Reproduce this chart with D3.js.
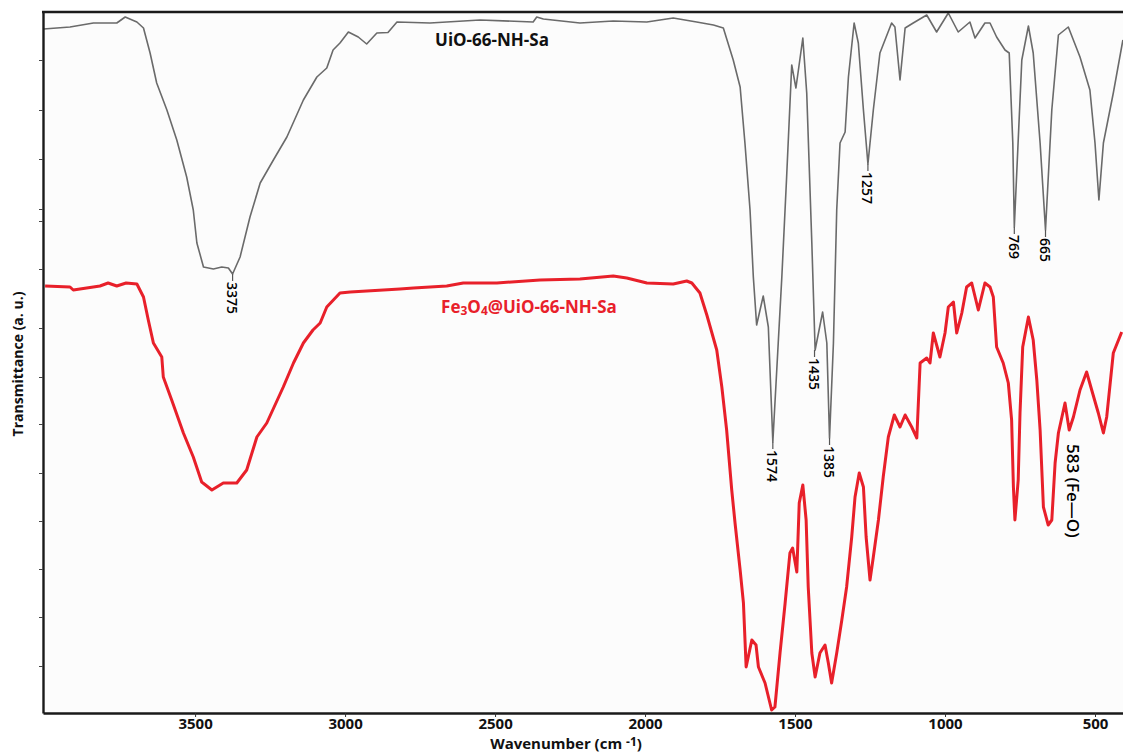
<!DOCTYPE html>
<html><head><meta charset="utf-8">
<script src="https://cdn.jsdelivr.net/npm/d3@7"></script>
<style>
body{margin:0;background:#fff;}
svg{display:block;}
text{font-family:"Open Sans","DejaVu Sans",sans-serif;}
</style>
</head><body>
<svg id="chart" width="1123" height="753"></svg>
<script>
// ---- data (wavenumber in cm-1, transmittance in arbitrary units) ----
const uioWavenumbers = [4005,3917,3839,3761,3733,3694,3672,3650,3628,3594,3561,3528,3506,3494,3472,3439,3411,3389,3375,3350,3317,3283,3239,3194,3139,3094,3061,3040,3017,2989,2956,2928,2894,2857,2827,2717,2550,2373,2361,2339,2217,2106,1994,1906,1828,1772,1739,1706,1683,1667,1650,1639,1628,1606,1589,1574,1556,1544,1528,1511,1497,1474,1461,1444,1433,1408,1394,1385,1372,1361,1350,1333,1322,1303,1289,1272,1257,1239,1217,1178,1167,1150,1133,1106,1061,1028,989,956,917,900,867,850,828,800,786,774,769,744,722,706,683,665,644,622,589,550,517,500,487,472,439,407];
const uioValues = [68.4,68.6,69.0,69.0,69.6,69.1,68.5,66.0,63.0,60.3,57.3,53.6,50.3,47.0,44.6,44.4,44.6,44.5,43.9,45.6,49.6,53.0,55.3,57.6,61.3,63.6,64.5,66.3,67.0,68.1,67.6,66.9,68.0,68.05,69.1,69.0,69.3,69.1,69.6,69.4,69.0,69.2,69.1,69.5,69.1,68.8,68.5,65.3,62.6,57.0,50.3,43.6,38.8,41.7,38.6,27.1,37.0,43.6,53.6,64.8,62.5,67.5,62.0,47.0,36.3,40.1,37.0,27.5,37.0,50.3,57.0,58.1,63.6,69.0,67.0,60.3,54.9,60.3,66.0,69.0,68.6,63.3,68.5,69.0,69.8,68.1,70.0,68.1,69.1,67.5,69.0,69.0,67.6,66.3,66.0,57.0,48.6,65.3,68.7,66.0,57.0,48.3,60.3,67.8,68.6,65.6,62.3,57.0,51.3,57.0,62.0,67.3];

const feWavenumbers = [4000,3917,3906,3817,3790,3761,3730,3694,3672,3656,3639,3611,3606,3578,3539,3506,3478,3444,3406,3361,3328,3294,3261,3206,3172,3139,3107,3083,3061,3039,3017,2983,2817,2772,2661,2606,2494,2350,2217,2106,2061,1994,1906,1861,1844,1817,1794,1761,1744,1728,1711,1700,1683,1672,1663,1644,1630,1622,1600,1578,1567,1550,1533,1517,1508,1494,1486,1474,1463,1456,1444,1433,1417,1400,1389,1378,1361,1344,1328,1311,1300,1286,1272,1263,1250,1239,1222,1206,1189,1169,1150,1133,1111,1094,1083,1061,1050,1039,1028,1017,1000,989,972,961,944,928,911,889,867,850,839,828,806,789,778,772,767,756,750,741,722,706,694,683,672,656,644,633,622,600,586,572,550,528,511,489,472,461,439,411];
const feValues = [42.7,42.6,42.3,42.7,43.0,42.7,43.0,42.9,41.6,39.3,37.0,35.6,33.6,31.3,28.0,25.6,23.1,22.3,23.0,23.0,24.3,27.6,29.0,32.6,35.0,37.0,38.3,39.0,40.6,41.3,42.0,42.1,42.4,42.5,42.7,43.0,43.0,43.3,43.4,43.7,43.5,43.0,42.9,43.2,43.0,42.0,39.8,36.3,32.6,28.3,22.3,19.0,14.3,11.0,4.6,7.3,6.8,4.6,3.0,0.3,0.6,6.0,11.0,16.0,16.5,14.1,21.0,22.8,19.3,12.6,6.0,3.6,6.0,6.8,5.0,3.0,6.0,9.3,12.6,17.6,21.6,24.0,22.6,17.6,13.3,15.6,19.3,23.6,27.6,29.8,28.6,29.8,28.6,27.5,35.0,35.5,35.0,38.0,36.8,35.6,38.0,40.6,41.1,38.0,40.0,42.6,43.0,40.3,43.0,42.6,41.6,36.6,35.0,33.0,29.3,22.6,19.3,23.3,30.0,36.6,39.6,37.3,33.3,28.3,20.6,18.8,19.3,25.0,28.0,31.0,28.3,29.6,32.3,34.1,32.3,30.0,28.0,29.6,36.0,38.1];

const xTickValues = [3500,3000,2500,2000,1500,1000,500];
const yTickValues = [65.3,60.3,55.4,50.4,49.2,44.4,38.5,33.6,28.9,24.0,19.2,14.4,9.6,4.7];
const uioPeaks = [3375,1574,1435,1385,1257,769,665];
const fePeak = 583;
const fePeakText = "583 (Fe\u2014O)";
const seriesNames = ["UiO-66-NH-Sa", "@UiO-66-NH-Sa"];

// ---- layout ----
const svg = d3.select("#chart");
const W = 1123, H = 753;
const mLeft = 43, mTop = 12, mBottom = 713;

const x = d3.scaleLinear().domain([4007, 400]).range([mLeft, 1125]);
const y = d3.scaleLinear().domain([0, 70.1]).range([mBottom, mTop]);

svg.append("rect").attr("width", W).attr("height", H).attr("fill", "#ffffff");
svg.append("rect").attr("x", mLeft).attr("y", mTop).attr("width", W - mLeft).attr("height", mBottom - mTop).attr("fill", "#fcfcfc");

svg.append("defs").append("clipPath").attr("id", "clip")
  .append("rect").attr("x", mLeft).attr("y", mTop).attr("width", W - mLeft).attr("height", mBottom - mTop + 2);

const uio = uioWavenumbers.map((w, i) => ({w, v: uioValues[i]}));
const fe = feWavenumbers.map((w, i) => ({w, v: feValues[i]}));

const line = d3.line().x(d => x(d.w)).y(d => y(d.v)).curve(d3.curveLinear);

const g = svg.append("g").attr("clip-path", "url(#clip)");
g.append("path").datum(uio).attr("d", line).attr("fill", "none")
  .attr("stroke", "#6a6a6a").attr("stroke-width", 1.6).attr("stroke-linejoin", "round");
g.append("path").datum(fe).attr("d", line).attr("fill", "none")
  .attr("stroke", "#e8202a").attr("stroke-width", 3).attr("stroke-linejoin", "round");

// ---- axes ----
const xAxis = svg.append("g").attr("transform", `translate(0,${mBottom})`)
  .call(d3.axisBottom(x).tickValues(xTickValues).tickFormat(d3.format("d")).tickSize(4).tickSizeOuter(0));
xAxis.select(".domain").attr("stroke", "#1a1a1a").attr("stroke-width", 2.4);
xAxis.selectAll(".tick line").attr("stroke", "#333");
xAxis.selectAll(".tick text").attr("dy", null).attr("y", 16)
  .attr("font-size", 15).attr("font-weight", "bold").attr("fill", "#111")
  .style("font-family", "'Open Sans', sans-serif");

const yAxis = svg.append("g").attr("transform", `translate(${mLeft},0)`)
  .call(d3.axisLeft(y).tickValues(yTickValues).tickFormat("").tickSize(4).tickSizeOuter(0));
yAxis.select(".domain").attr("stroke", "#1a1a1a").attr("stroke-width", 2.4);
yAxis.selectAll(".tick line").attr("stroke", "#444");

svg.append("line").attr("x1", mLeft - 1).attr("x2", W).attr("y1", mTop).attr("y2", mTop)
  .attr("stroke", "#1a1a1a").attr("stroke-width", 2.4);

// axis titles
const xt = svg.append("text").attr("x", 566).attr("y", 749).attr("text-anchor", "middle")
  .attr("font-size", 15).attr("font-weight", "bold").attr("fill", "#111");
xt.append("tspan").text("Wavenumber (cm ");
xt.append("tspan").attr("dy", -3).attr("font-size", 12).text("-1");
xt.append("tspan").attr("dy", 3).text(")");

svg.append("text").attr("transform", "translate(23,364) rotate(-90)").attr("text-anchor", "middle")
  .attr("font-size", 14).attr("font-weight", "bold").attr("fill", "#111")
  .text("Transmittance (a. u.)");

// series labels
svg.append("text").attr("x", 492).attr("y", 46).attr("text-anchor", "middle")
  .attr("font-size", 17).attr("font-weight", "bold").attr("fill", "#111").text(seriesNames[0]);
const fl = svg.append("text").attr("x", 529).attr("y", 313).attr("text-anchor", "middle")
  .attr("font-size", 17).attr("font-weight", "bold").attr("fill", "#e8202a");
fl.append("tspan").text("Fe");
fl.append("tspan").attr("font-size", 12).attr("dy", 2).text("3");
fl.append("tspan").attr("dy", -2).text("O");
fl.append("tspan").attr("font-size", 12).attr("dy", 2).text("4");
fl.append("tspan").attr("dy", -2).text(seriesNames[1]);

// peak annotations
function localMin(series, w, win) {
  const pts = series.filter(d => Math.abs(d.w - w) <= win);
  return d3.min(pts, d => d.v);
}
uioPeaks.forEach(p => {
  const v = localMin(uio, p, 12);
  const px = x(p), py = y(v);
  svg.append("line").attr("x1", px).attr("x2", px).attr("y1", py).attr("y2", py + 7)
    .attr("stroke", "#555").attr("stroke-width", 1.2);
  svg.append("text").attr("transform", `translate(${px},${py + 8}) rotate(90)`)
    .attr("dominant-baseline", "central").attr("font-size", 14).attr("font-weight", 600).attr("fill", "#000")
    .text(String(p));
});
{
  const v = localMin(fe, fePeak, 12);
  const px = x(fePeak) + 3, py = y(v) + 14;
  svg.append("text").attr("transform", `translate(${px},${py}) rotate(90)`)
    .attr("dominant-baseline", "central").attr("font-size", 17).attr("font-weight", 600).attr("fill", "#000")
    .text(fePeakText);
}
</script>
</body></html>
